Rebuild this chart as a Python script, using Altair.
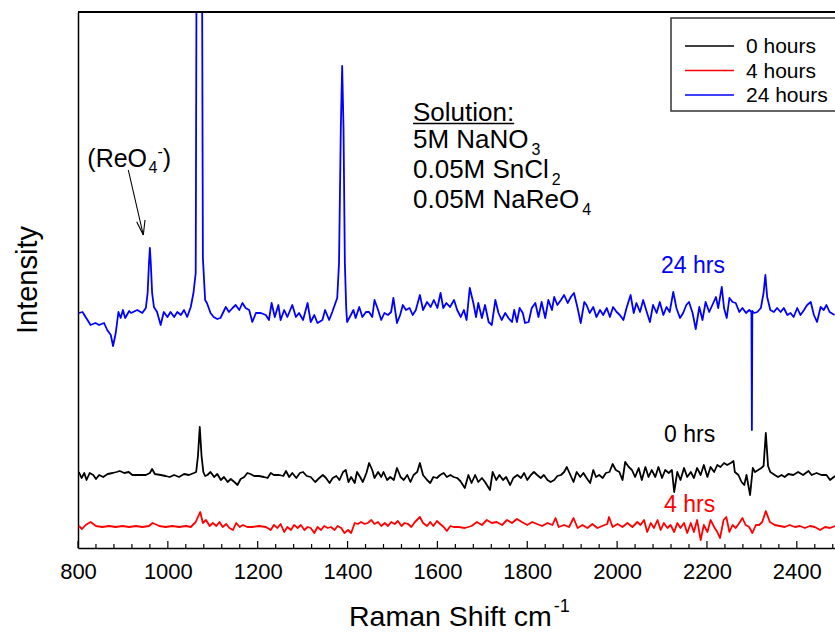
import altair as alt
import pandas as pd

# ---------------- data ----------------
series_names = ["0 hours", "4 hours", "24 hours"]
series_colors = ["#000000", "#ff0000", "#0000ff"]

spectrum_24h = [(802,235),(810,236),(817,231),(828,223),(839,225),(847,223),(858,225),(865,218),(873,213),(878,202),
 (884,215),(890,236),(895,230),(900,238),(905,230),(914,237),(918,235),(932,238),(943,235),(951,240),(955,255),(958,285),
 (960,300),(962,285),(965,255),(969,241),(976,236),(984,223),(991,236),(999,231),(1006,236),(1014,231),(1021,236),(1029,233),
 (1036,238),(1043,231),(1051,241),(1057,255),(1062,275),(1064,600),(1070,1100),(1076,600),(1078,290),(1083,248),(1087,245),
 (1095,235),(1102,231),(1110,229),(1117,230),(1129,241),(1136,236),(1144,240),(1151,243),(1159,238),(1166,245),(1173,240),
 (1181,238),(1188,226),(1196,235),(1207,235),(1218,233),(1225,228),(1231,245),(1238,231),(1246,243),(1251,228),(1259,238),
 (1266,231),(1277,243),(1285,231),(1292,235),(1301,228),(1311,245),(1318,226),(1326,233),(1333,225),(1344,228),(1350,238),
 (1359,228),(1366,236),(1373,245),(1377,250),(1381,285),(1385,420),(1388,482),(1391,420),(1394,285),(1397,240),(1399,226),
 (1405,231),(1413,238),(1418,230),(1426,241),(1433,231),(1441,236),(1448,236),(1455,231),(1460,248),(1468,238),(1475,228),
 (1482,235),(1490,233),(1497,236),(1502,250),(1510,225),(1517,233),(1523,243),(1530,238),(1538,240),(1545,233),(1552,238),
 (1561,253),(1568,238),(1577,246),(1585,241),(1592,248),(1600,240),(1607,255),(1613,240),(1620,245),(1628,241),(1637,248),
 (1644,238),(1652,231),(1659,238),(1665,228),(1672,260),(1680,245),(1686,231),(1691,245),(1699,230),(1706,243),(1714,226),
 (1721,223),(1729,248),(1736,235),(1743,228),(1751,235),(1758,230),(1766,226),(1771,238),(1777,226),(1783,240),(1790,235),
 (1795,225),(1803,226),(1810,240),(1818,245),(1825,231),(1832,246),(1840,230),(1847,248),(1855,238),(1860,251),(1867,243),
 (1875,248),(1882,253),(1890,245),(1897,251),(1904,255),(1912,240),(1919,225),(1927,246),(1932,243),(1939,235),(1947,241),
 (1954,231),(1962,238),(1969,233),(1977,240),(1984,231),(1991,241),(1999,236),(2006,233),(2014,228),(2021,240),(2030,253),
 (2037,235),(2043,245),(2051,236),(2058,248),(2066,236),(2073,226),(2080,243),(2088,235),(2095,246),(2103,233),(2110,241),
 (2117,236),(2125,256),(2132,240),(2140,230),(2147,235),(2154,243),(2160,246),(2168,235),(2175,219),(2183,241),(2190,228),
 (2197,246),(2205,236),(2212,243),(2220,251),(2225,240),(2233,261),(2238,240),(2244,230),(2250,250),(2257,246),(2264,245),
 (2272,236),(2279,240),(2287,235),(2294,238),(2299,236),(2300,118),(2301,237),(2305,235),(2312,236),(2320,240),(2326,255),
 (2330,273),(2334,251),(2341,238),(2349,236),(2356,240),(2364,236),(2371,240),(2379,233),(2386,235),(2393,231),(2401,240),
 (2408,233),(2416,238),(2423,243),(2431,246),(2438,233),(2445,226),(2453,241),(2460,238),(2466,243),(2473,236),(2484,233)]

spectrum_0h = [(802,76),(808,70),(814,75),(819,68),(826,75),(834,73),(840,69),(847,73),(856,71),(866,74),(877,75),(886,76),
 (893,77),(903,75),(913,76),(921,73),(936,73),(951,73),(960,75),(965,79),(971,74),(984,73),(995,72),(1004,71),(1014,73),
 (1025,71),(1036,74),(1047,73),(1058,75),(1063,76),(1067,92),(1071,121),(1075,92),(1079,76),(1083,72),(1088,73),(1095,76),
 (1103,71),(1110,74),(1118,68),(1125,71),(1133,66),(1140,69),(1148,66),(1155,63),(1162,69),(1170,71),(1177,75),(1184,74),
 (1192,72),(1203,72),(1214,71),(1222,70),(1229,75),(1236,73),(1248,73),(1257,72),(1263,77),(1270,71),(1277,75),(1286,70),
 (1294,75),(1301,76),(1309,72),(1318,71),(1328,66),(1337,70),(1345,73),(1352,70),(1360,65),(1367,70),(1375,72),(1382,68),
 (1390,76),(1396,78),(1402,66),(1408,71),(1416,65),(1421,76),(1428,71),(1434,66),(1442,75),(1448,85),(1455,78),(1460,70),
 (1468,76),(1475,71),(1480,76),(1488,68),(1495,71),(1503,68),(1510,80),(1518,71),(1525,68),(1533,73),(1540,66),(1547,73),
 (1555,76),(1561,85),(1568,73),(1577,68),(1584,65),(1591,71),(1599,70),(1606,73),(1614,75),(1621,71),(1629,73),(1636,71),
 (1644,70),(1651,67),(1661,60),(1669,73),(1676,65),(1684,73),(1691,66),(1699,70),(1706,66),(1717,58),(1723,76),(1731,68),
 (1738,73),(1746,68),(1753,71),(1762,63),(1769,70),(1778,73),(1786,70),(1793,75),(1800,68),(1808,73),(1815,76),(1822,73),
 (1830,70),(1837,73),(1845,68),(1852,66),(1860,68),(1867,72),(1875,73),(1882,76),(1888,81),(1896,73),(1903,66),(1910,76),
 (1918,71),(1925,75),(1932,70),(1940,65),(1947,78),(1953,71),(1960,73),(1968,70),(1975,75),(1983,76),(1990,84),(1997,78),
 (2005,76),(2012,68),(2018,86),(2026,81),(2033,78),(2040,71),(2048,80),(2055,68),(2063,81),(2070,71),(2077,78),(2085,71),
 (2092,81),(2100,70),(2107,78),(2115,75),(2122,78),(2127,56),(2134,76),(2141,68),(2149,80),(2156,71),(2164,76),(2171,70),
 (2178,80),(2186,73),(2193,83),(2201,71),(2208,81),(2216,76),(2223,83),(2230,81),(2238,85),(2245,83),(2253,85),(2259,87),
 (2262,76),(2270,73),(2277,66),(2283,63),(2288,73),(2296,53),(2302,80),(2307,76),(2314,78),(2321,80),(2326,82),(2331,115),
 (2336,82),(2341,76),(2351,73),(2358,71),(2366,73),(2373,71),(2381,74),(2392,73),(2403,76),(2414,73),(2426,77),(2433,73),
 (2444,75),(2455,73),(2466,73),(2474,68),(2485,72)]

spectrum_4h = [(802,22),(809,19),(817,23),(828,26),(840,22),(854,21),(869,22),(884,21),(899,22),(914,21),(929,22),(943,21),
 (958,22),(966,25),(981,22),(995,21),(1010,22),(1025,21),(1040,22),(1051,21),(1062,26),(1072,36),(1078,25),(1085,28),
 (1093,22),(1100,25),(1108,22),(1115,26),(1122,21),(1130,24),(1137,20),(1145,18),(1152,25),(1160,21),(1167,23),(1177,21),
 (1188,21),(1203,22),(1218,21),(1229,18),(1236,23),(1244,20),(1251,24),(1259,16),(1266,21),(1274,18),(1281,23),(1289,20),
 (1296,23),(1304,18),(1311,21),(1318,20),(1326,15),(1333,21),(1341,18),(1348,22),(1356,20),(1363,21),(1371,18),(1378,22),
 (1386,20),(1393,15),(1401,18),(1408,15),(1416,25),(1423,24),(1430,26),(1438,24),(1445,25),(1453,28),(1460,24),(1468,26),
 (1475,22),(1483,25),(1490,22),(1497,26),(1505,24),(1512,27),(1520,22),(1527,25),(1535,24),(1542,21),(1550,26),(1561,31),
 (1568,25),(1577,22),(1584,26),(1591,22),(1599,27),(1606,24),(1614,21),(1621,17),(1629,22),(1636,21),(1647,21),(1661,20),
 (1676,22),(1688,26),(1699,23),(1710,28),(1721,25),(1732,26),(1744,23),(1755,28),(1766,25),(1777,29),(1788,26),(1800,23),
 (1811,26),(1822,24),(1833,22),(1845,25),(1856,23),(1863,30),(1870,21),(1882,23),(1893,21),(1903,30),(1912,20),(1923,23),
 (1934,20),(1945,24),(1956,20),(1967,22),(1978,24),(1982,31),(1990,21),(2001,24),(2012,21),(2023,25),(2034,21),(2045,26),
 (2052,23),(2060,28),(2067,16),(2075,25),(2082,20),(2090,28),(2097,18),(2104,25),(2112,20),(2119,23),(2127,16),(2134,25),
 (2141,20),(2149,25),(2156,15),(2164,25),(2171,16),(2178,28),(2186,8),(2193,23),(2201,16),(2208,28),(2216,21),(2223,16),
 (2229,10),(2237,28),(2243,31),(2250,16),(2257,23),(2264,20),(2272,25),(2279,30),(2286,23),(2294,21),(2301,15),(2309,23),
 (2316,23),(2323,26),(2331,37),(2340,26),(2351,23),(2362,22),(2373,21),(2384,23),(2396,21),(2407,22),(2418,20),(2429,22),
 (2440,21),(2452,18),(2463,21),(2474,20),(2485,22)]

major_ticks = [800, 1000, 1200, 1400, 1600, 1800, 2000, 2200, 2400]
minor_ticks = [v for v in range(840, 2485, 40) if v % 200 != 0]
x_domain = [800, 2485]
y_domain = [0, 536]

# ---------------- layout ----------------
FONT = "Liberation Sans"
W, H = 757, 536
PAD = {"left": 78, "top": 12, "right": 0, "bottom": 85}

ARIAL = {c: .556 for c in "0123456789aenhuo"}
ARIAL.update({'.': .278, ' ': .278, ':': .278, 't': .278, 'f': .278, 'I': .278, 'M': .833, 'm': .833,
              'N': .722, 'R': .722, 'C': .722, 'O': .778, 'S': .667, 'l': .222, 'i': .222,
              '(': .333, ')': .333, '-': .333, 'r': .333, 's': .5, 'c': .5, 'y': .5})


def tw(s, size):
    return sum(ARIAL.get(ch, .556) for ch in s) * size


rows = []
for name, pts in zip(series_names, [spectrum_0h, spectrum_4h, spectrum_24h]):
    for x, y in pts:
        rows.append({"series": name, "shift": x, "intensity": y})
df = pd.DataFrame(rows)

xscale = alt.Scale(domain=x_domain, nice=False, zero=False)
yscale = alt.Scale(domain=y_domain, nice=False, zero=False)
xaxis = alt.Axis(values=major_ticks, format="d", ticks=False, tickSize=0, grid=False, title=None,
                 labelFont=FONT, labelFontSize=22, labelColor="black", labelPadding=13,
                 labelFlush=False, labelOverlap=False, domainColor="black", domainWidth=1.5)
yaxis = alt.Axis(labels=False, ticks=False, grid=False, title=None,
                 domainColor="black", domainWidth=1.5)

lines = alt.Chart(df).mark_line(strokeWidth=1.8, clip=True, strokeJoin="round").encode(
    x=alt.X("shift:Q", scale=xscale, axis=xaxis),
    y=alt.Y("intensity:Q", scale=yscale, axis=yaxis),
    color=alt.Color("series:N", scale=alt.Scale(domain=series_names, range=series_colors), legend=None),
    detail="series:N",
)

major = alt.Chart(pd.DataFrame({"shift": major_ticks})).mark_rule(color="black", strokeWidth=1.2).encode(
    x=alt.X("shift:Q", scale=xscale, axis=xaxis), y=alt.value(H), y2=alt.value(H - 7))
minor = alt.Chart(pd.DataFrame({"shift": minor_ticks})).mark_rule(color="black", strokeWidth=1.2).encode(
    x=alt.X("shift:Q", scale=xscale, axis=xaxis), y=alt.value(H), y2=alt.value(H - 4))

one = pd.DataFrame({"a": [0]})


def rule(x1, y1, x2, y2, color="black", width=1.5):
    return alt.Chart(one).mark_rule(color=color, strokeWidth=width).encode(
        x=alt.value(x1), y=alt.value(y1), x2=alt.value(x2), y2=alt.value(y2))


def label(text, x, y, size, color="black", align="left", angle=0, baseline="alphabetic"):
    return alt.Chart(pd.DataFrame({"t": [text]})).mark_text(
        font=FONT, fontSize=size, color=color, align=align, baseline=baseline, angle=angle
    ).encode(x=alt.value(x), y=alt.value(y), text="t:N")


layers = [lines, major, minor, rule(0, 0, W, 0, width=1.8)]

# legend box
layers.append(alt.Chart(one).mark_rect(fill="white", stroke="#333333", strokeWidth=1.5).encode(
    x=alt.value(593), x2=alt.value(W + 20), y=alt.value(6), y2=alt.value(99)))
for i, (name, col) in enumerate(zip(series_names, series_colors)):
    yb = 41 + i * 24.5
    layers.append(rule(607, yb - 7, 656, yb - 7, color=col, width=1.5))
    layers.append(label(name, 668, yb, 21))

# solution block
sx = 335
sol_size, sub_size = 26, 16
layers.append(label("Solution:", sx, 108.7, sol_size))
layers.append(rule(sx, 111.5, sx + tw("Solution:", sol_size), 111.5, width=1.5))
for main, sub, yb in [("5M NaNO", "3", 136.3), ("0.05M SnCl", "2", 166.3), ("0.05M NaReO", "4", 196.3)]:
    layers.append(label(main, sx, yb, sol_size))
    layers.append(label(sub, sx + tw(main, sol_size) + 3, yb + 7, sub_size))

# (ReO4-) annotation
rx, ry, rs = 9.3, 154.7, 25
layers.append(label("(ReO", rx, ry, rs))
x4 = rx + tw("(ReO", rs) + 1.5
layers.append(label("4", x4, ry + 6.5, sub_size))
xm = x4 + tw("4", sub_size)
layers.append(label("-", xm, ry - 10, sub_size))
layers.append(label(")", xm + tw("-", sub_size), ry, rs))
layers.append(rule(50.3, 158, 65.3, 223, width=1.1))
layers.append(rule(65.3, 223, 58.7, 209.7, width=1.1))
layers.append(rule(65.3, 223, 67.0, 208.0, width=1.1))

# series labels
layers.append(label("24 hrs", 583, 260.7, 23, color="#0000ff"))
layers.append(label("0 hrs", 586, 429.7, 23))
layers.append(label("4 hrs", 586, 499.7, 23, color="#ff0000"))

# axis titles
layers.append(label("Raman Shift cm", 271, 614, 28.5))
layers.append(label("-1", 271 + tw("Raman Shift cm", 28.5) + 2, 600, 18))
layers.append(label("Intensity", -41, H / 2, 29, align="center", angle=270))

chart = alt.layer(*layers).properties(
    width=W, height=H, padding=PAD,
    autosize=alt.AutoSizeParams(type="none"),
).configure_view(stroke=None)

chart.save("out.html", embed_options={"renderer": "svg", "actions": False})
